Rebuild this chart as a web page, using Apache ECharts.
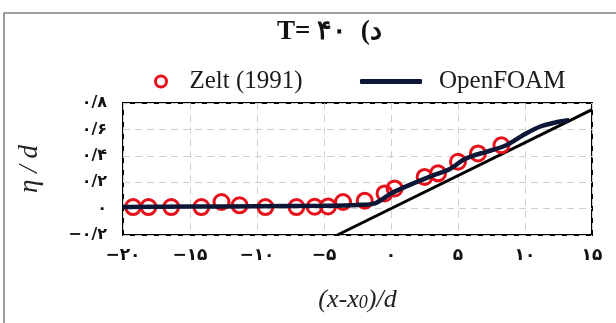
<!DOCTYPE html>
<html>
<head>
<meta charset="utf-8">
<script src="https://cdn.jsdelivr.net/npm/echarts@6/dist/echarts.min.js"></script>
<style>
html,body{margin:0;padding:0;background:#fff;}
#chart{width:616px;height:323px;}
</style>
</head>
<body>
<div id="chart"></div>
<script>
// ---- data ----
const zeltX = [-19.25, -18.1, -16.4, -14.15, -12.65, -11.3, -9.37, -7.06, -5.7, -4.7, -3.58, -1.96, -0.48, 0.27, 2.51, 3.51, 5.0, 6.49, 8.24];
const zeltY = [0.012, 0.012, 0.012, 0.012, 0.05, 0.025, 0.012, 0.012, 0.014, 0.016, 0.05, 0.06, 0.115, 0.153, 0.24, 0.267, 0.355, 0.418, 0.48];
const foamX = [-20, -15, -10, -5, -2.5, -1.2, 0, 1.4, 3.1, 4.4, 5.4, 6.1, 7.1, 8.6, 9.85, 11.1, 12.6, 13.3];
const foamY = [0.012, 0.015, 0.018, 0.022, 0.028, 0.04, 0.115, 0.18, 0.25, 0.30, 0.37, 0.40, 0.43, 0.48, 0.556, 0.62, 0.66, 0.67];
const slopeX = [-4, 15];
const slopeY = [-0.2, 0.75];
const xTickValues = [-20, -15, -10, -5, 0, 5, 10, 15];
const xTickLabels = ['−۲۰', '−۱۵', '−۱۰', '−۵', '۰', '۵', '۱۰', '۱۵'];
const yTickValues = [-0.2, 0, 0.2, 0.4, 0.6, 0.8];
const yTickLabels = ['−۰/۲', '۰', '۰/۲', '۰/۴', '۰/۶', '۰/۸'];
const titleText = 'T= ۴۰  (د';
const seriesNames = ['Zelt (1991)', 'OpenFOAM'];

function lookup(vals, labels, v) {
  for (let i = 0; i < vals.length; i++) if (Math.abs(vals[i] - v) < 1e-6) return labels[i];
  return '';
}
const zip = (a, b) => a.map((v, i) => [v, b[i]]);

const chart = echarts.init(document.getElementById('chart'), null, {renderer: 'canvas'});
const serif = '"Liberation Serif", "Times New Roman", serif';
const navy = '#0c1738';
const red = '#e6101a';

chart.setOption({
  animation: false,
  backgroundColor: '#fff',
  title: {
    text: titleText,
    left: 272, top: 14,
    textStyle: {fontFamily: serif, fontWeight: 'bold', fontSize: 27, color: '#111'}
  },
  legend: [
    {
      data: [{name: seriesNames[0], icon: 'circle', itemStyle: {color: 'transparent', borderColor: red, borderWidth: 3, opacity: 1}}],
      left: 149, top: 64, itemWidth: 11, itemHeight: 11, itemGap: 0,
      textStyle: {fontFamily: serif, fontSize: 25, color: '#1a1a1a', padding: [0, 0, 0, 18]}
    },
    {
      data: [{name: seriesNames[1], icon: 'roundRect'}],
      left: 355, top: 64, itemWidth: 62, itemHeight: 5, itemGap: 0,
      textStyle: {fontFamily: serif, fontSize: 25, color: '#1a1a1a', padding: [0, 0, 0, 12]}
    }
  ],
  graphic: [{
    type: 'rect', silent: true, z: -1,
    shape: {x: 4, y: 13, width: 700, height: 400},
    style: {fill: 'none', stroke: '#808080', lineWidth: 1.5}
  }],
  grid: {left: 123, right: 24, top: 103, bottom: 88, show: true, borderColor: '#000', borderWidth: 2, backgroundColor: 'transparent'},
  xAxis: {
    type: 'value', min: -20, max: 15, interval: 5,
    axisLine: {show: false}, axisTick: {show: false},
    splitLine: {show: true, lineStyle: {color: '#cfcfcf', type: [7, 5], width: 1}},
    axisLabel: {margin: 12, fontFamily: '"DejaVu Sans", sans-serif', fontWeight: 'bold', fontSize: 17, color: '#111',
      formatter: v => lookup(xTickValues, xTickLabels, v)},
    name: '(x-x{s|0})/d', nameLocation: 'middle', nameGap: 52,
    nameTextStyle: {fontFamily: serif, fontStyle: 'italic', fontSize: 26, color: '#222',
      rich: {s: {fontFamily: serif, fontStyle: 'italic', fontSize: 18, color: '#222', padding: [7, 0, 0, 0]}}}
  },
  yAxis: {
    type: 'value', min: -0.2, max: 0.8, interval: 0.2,
    axisLine: {show: false}, axisTick: {show: false},
    splitLine: {show: true, lineStyle: {color: '#cfcfcf', type: [7, 5], width: 1}},
    axisLabel: {margin: 16, fontFamily: '"DejaVu Sans", sans-serif', fontWeight: 'bold', fontSize: 16, color: '#111',
      formatter: v => lookup(yTickValues, yTickLabels, v)},
    name: 'η / d', nameLocation: 'middle', nameRotate: 90, nameGap: 80,
    nameTextStyle: {fontFamily: serif, fontStyle: 'italic', fontSize: 27, color: '#222'}
  },
  series: [
    {
      name: 'slope', type: 'line', data: zip(slopeX, slopeY), symbol: 'none',
      lineStyle: {color: '#000', width: 3}, z: 2, silent: true
    },
    {
      name: seriesNames[0], type: 'scatter', data: zip(zeltX, zeltY),
      symbol: 'circle', symbolSize: 15,
      itemStyle: {color: 'rgba(255,255,255,0)', borderColor: red, borderWidth: 3, opacity: 1}, z: 3
    },
    {
      name: seriesNames[1], type: 'line', data: zip(foamX, foamY), symbol: 'none', smooth: 0.3,
      lineStyle: {color: navy, width: 4.5}, itemStyle: {color: navy}, z: 4
    }
  ]
});
</script>
</body>
</html>
